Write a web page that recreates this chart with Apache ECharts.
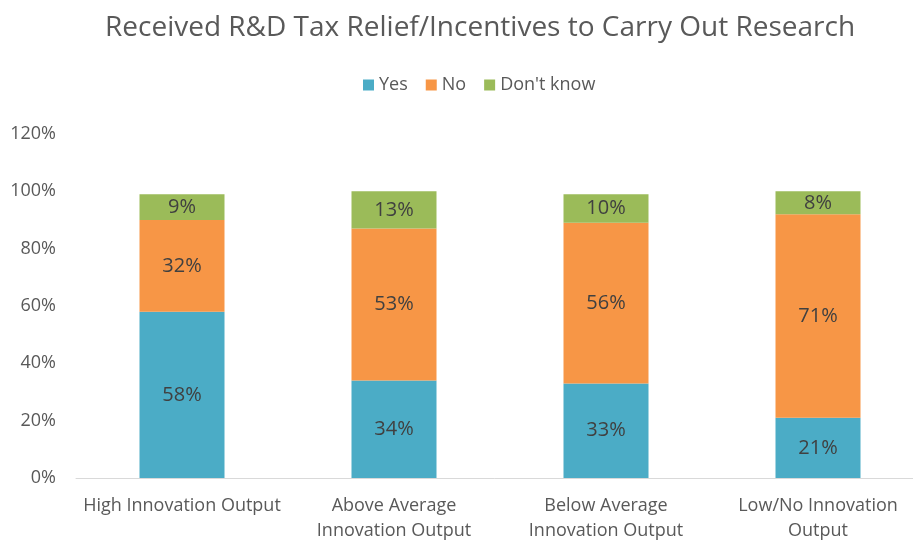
<!DOCTYPE html>
<html>
<head>
<meta charset="utf-8">
<script src="https://cdn.jsdelivr.net/npm/echarts@6/dist/echarts.min.js"></script>
<style>
  html, body { margin: 0; padding: 0; background: #fff; }
  #chart { width: 913px; height: 542px; }
</style>
</head>
<body>
<div id="chart"></div>
<script>
// 数据
const categories = ['High Innovation Output', 'Above Average\nInnovation Output', 'Below Average\nInnovation Output', 'Low/No Innovation\nOutput'];
const yesValues = [58, 34, 33, 21];
const noValues = [32, 53, 56, 71];
const dontKnowValues = [9, 13, 10, 8];
const yTicks = [0, 20, 40, 60, 80, 100, 120];

const fontFamily = '"Open Sans", "Noto Sans", sans-serif';

function makeSeries(name, data, color) {
    return {
        name: name,
        type: 'bar',
        stack: 'total',
        barWidth: 85,
        data: data,
        itemStyle: { color: color },
        label: {
            show: true,
            position: 'inside',
            formatter: '{c}%',
            color: '#404040',
            fontSize: 20,
            fontFamily: fontFamily
        }
    };
}

const chart = echarts.init(document.getElementById('chart'), null, { renderer: 'canvas' });

chart.setOption({
    animation: false,
    title: {
        text: 'Received R&D Tax Relief/Incentives to Carry Out Research',
        left: 100,
        top: 9,
        textStyle: { color: '#595959', fontSize: 28, fontWeight: 'normal', fontFamily: fontFamily }
    },
    legend: {
        top: 71,
        left: 358,
        itemWidth: 11,
        itemHeight: 11,
        itemGap: 18,
        icon: 'rect',
        textStyle: { color: '#595959', fontSize: 18, fontFamily: fontFamily }
    },
    grid: { left: 76, width: 848, top: 134, bottom: 64, outerBoundsMode: 'none' },
    xAxis: {
        type: 'category',
        data: categories,
        axisLine: { lineStyle: { color: '#d9d9d9', width: 1 } },
        axisTick: { show: false },
        axisLabel: { color: '#595959', fontSize: 18, fontFamily: fontFamily, lineHeight: 25, margin: 15, interval: 0 }
    },
    yAxis: {
        type: 'value',
        min: yTicks[0],
        max: yTicks[yTicks.length - 1],
        interval: 20,
        splitLine: { show: false },
        axisLine: { show: false },
        axisTick: { show: false },
        axisLabel: { color: '#595959', fontSize: 18, fontFamily: fontFamily, margin: 20, formatter: '{value}%' }
    },
    series: [
        makeSeries('Yes', yesValues, '#4BACC6'),
        makeSeries('No', noValues, '#F79646'),
        makeSeries("Don't know", dontKnowValues, '#9BBB59')
    ]
});
</script>
</body>
</html>
